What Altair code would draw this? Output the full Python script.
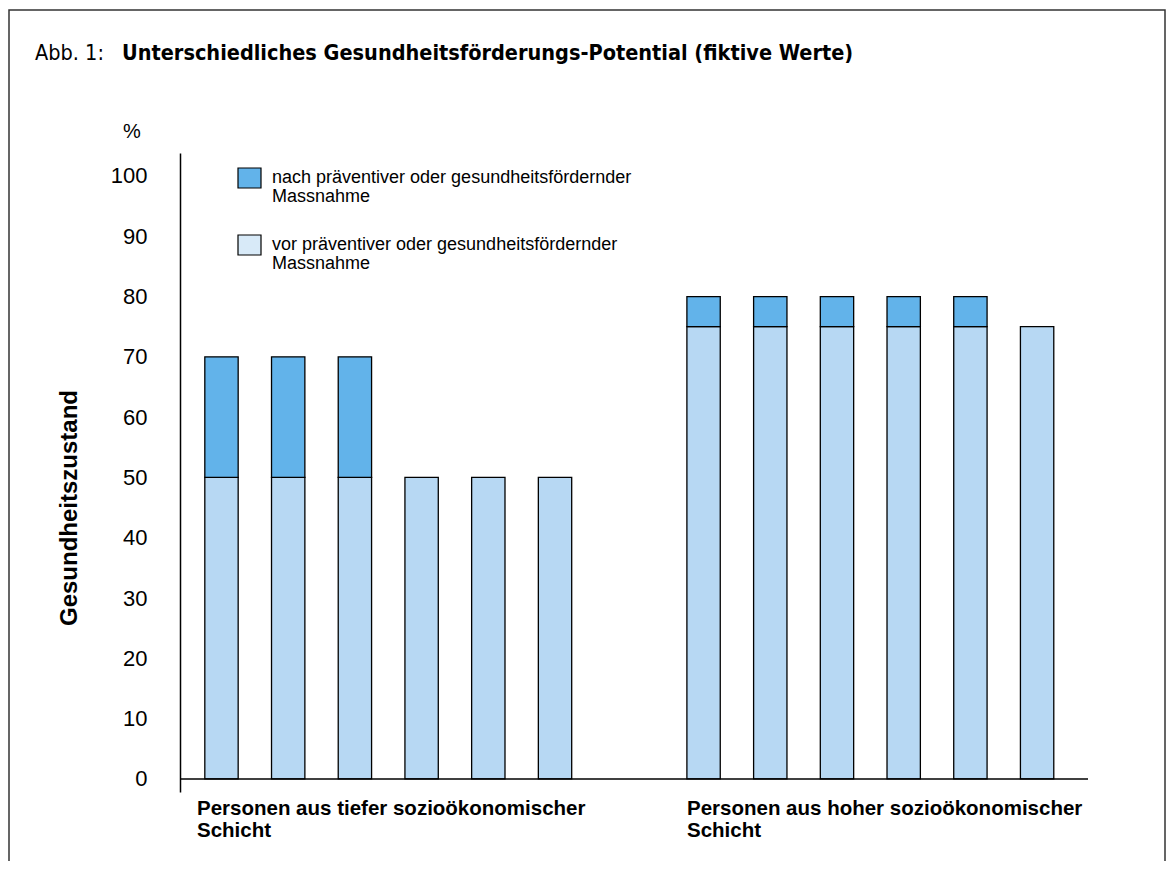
import altair as alt
import pandas as pd

# ---- data ----
groups = ["Personen aus tiefer sozioökonomischer Schicht",
          "Personen aus hoher sozioökonomischer Schicht"]
group_label_lines = [["Personen aus tiefer sozioökonomischer", "Schicht"],
                     ["Personen aus hoher sozioökonomischer", "Schicht"]]
vor_tief = [50, 50, 50, 50, 50, 50]
nach_tief = [70, 70, 70, None, None, None]
vor_hoch = [75, 75, 75, 75, 75, 75]
nach_hoch = [80, 80, 80, 80, 80, None]
legend_labels = [["nach präventiver oder gesundheitsfördernder", "Massnahme"],
                 ["vor präventiver oder gesundheitsfördernder", "Massnahme"]]
y_ticks = [0, 10, 20, 30, 40, 50, 60, 70, 80, 90, 100]
title_prefix = "Abb. 1:"
title_main = "Unterschiedliches Gesundheitsförderungs-Potential (fiktive Werte)"
y_title = "Gesundheitszustand"
y_unit = "%"

# ---- layout constants ----
W, H = 908, 639
GROUP_OFFSET = 7.227
X_DOMAIN = [0.378, 13.99]
Y_DOMAIN = [-2.16, 103.8]
HALF = 0.25
DARK = "#62B3EA"
LIGHT = "#B7D8F3"
LIGHT_LEG = "#D8EAF8"
FONT = "Liberation Sans, Arial, sans-serif"
NARROW = "Liberation Sans Narrow, DejaVu Sans Condensed, sans-serif"

rows = []
for g, (vor, nach) in enumerate([(vor_tief, nach_tief), (vor_hoch, nach_hoch)]):
    for i in range(6):
        pos = (i + 1) + (GROUP_OFFSET if g == 1 else 0)
        rows.append({"pos": pos, "y0": 0, "y1": vor[i], "seg": "vor"})
        if nach[i] is not None:
            rows.append({"pos": pos, "y0": vor[i], "y1": nach[i], "seg": "nach"})
df = pd.DataFrame(rows)
df["xa"] = df["pos"] - HALF
df["xb"] = df["pos"] + HALF

xs = alt.Scale(domain=X_DOMAIN, nice=False, zero=False)
ys = alt.Scale(domain=Y_DOMAIN, nice=False, zero=False)

one = pd.DataFrame({"a": [0]})

frame = alt.Chart(one).mark_rect(fill=None, stroke="#333333", strokeWidth=1.5).encode(
    x=alt.value(-171), x2=alt.value(985), y=alt.value(-143), y2=alt.value(760))

bars = alt.Chart(df).mark_bar(stroke="black", strokeWidth=1.3).encode(
    x=alt.X("xa:Q", scale=xs, axis=None),
    x2="xb:Q",
    y=alt.Y("y0:Q", scale=ys,
            axis=alt.Axis(values=y_ticks, title=None, ticks=False, grid=False,
                          domainColor="black", domainWidth=1.5,
                          labelFont=FONT, labelFontSize=22, labelColor="black",
                          labelPadding=33, labelFontWeight=500)),
    y2="y1:Q",
    color=alt.Color("seg:N", scale=alt.Scale(domain=["nach", "vor"], range=[DARK, LIGHT]),
                    legend=None),
)

baseline = alt.Chart(one).mark_rule(color="black", strokeWidth=1.5).encode(
    x=alt.value(0), x2=alt.value(W), y=alt.value(H - (0 - Y_DOMAIN[0]) / (Y_DOMAIN[1] - Y_DOMAIN[0]) * H))

# group labels
gl = pd.DataFrame({"txt": group_label_lines, "px": [17, 507]})
glabels = alt.Chart(gl).mark_text(align="left", baseline="middle", font=FONT,
                                  fontSize=20.5, fontWeight="bold", lineHeight=22,
                                  color="black").encode(
    x=alt.X("px:Q", scale=None), y=alt.value(656), text="txt")

# legend
leg = pd.DataFrame({"txt": legend_labels, "c": [DARK, LIGHT_LEG],
                    "sy": [15, 82], "ty": [25, 92]})
leg_sw = alt.Chart(leg).mark_rect(stroke="black", strokeWidth=1.2).encode(
    x=alt.value(58), x2=alt.value(81),
    y=alt.Y("sy:Q", scale=None), y2=alt.Y2("sy2:Q"),
    fill=alt.Fill("c:N", scale=None)).transform_calculate(sy2="datum.sy + 20")
leg_tx = alt.Chart(leg).mark_text(align="left", baseline="middle", font=FONT,
                                  fontSize=18, lineHeight=19, color="black").encode(
    x=alt.value(92), y=alt.Y("ty:Q", scale=None), text="txt")

# titles
t1 = alt.Chart(one).mark_text(align="left", baseline="alphabetic", font=NARROW,
                              fontSize=21.5, color="black").encode(
    x=alt.value(-145), y=alt.value(-93), text=alt.value(title_prefix))
t2 = alt.Chart(one).mark_text(align="left", baseline="alphabetic", font=NARROW,
                              fontSize=21.5, fontWeight="bold", color="black").encode(
    x=alt.value(-58), y=alt.value(-93), text=alt.value(title_main))
yt = alt.Chart(one).mark_text(align="center", baseline="middle", font=FONT,
                              fontSize=24, fontWeight="bold", angle=270,
                              color="black").encode(
    x=alt.value(-110), y=alt.value(355), text=alt.value(y_title))
pct = alt.Chart(one).mark_text(align="center", baseline="middle", font=FONT,
                               fontSize=20, color="black").encode(
    x=alt.value(-48), y=alt.value(-21), text=alt.value(y_unit))

chart = alt.layer(frame, bars, baseline, glabels, leg_sw, leg_tx, t1, t2, yt, pct).properties(
    width=W, height=H,
    background="white",
    autosize=alt.AutoSizeParams(type="none"),
    padding={"left": 172, "top": 145, "right": 78, "bottom": 69},
).configure_view(stroke=None, strokeWidth=0)

chart.save("out.html", embed_options={"renderer": "svg", "actions": False})
